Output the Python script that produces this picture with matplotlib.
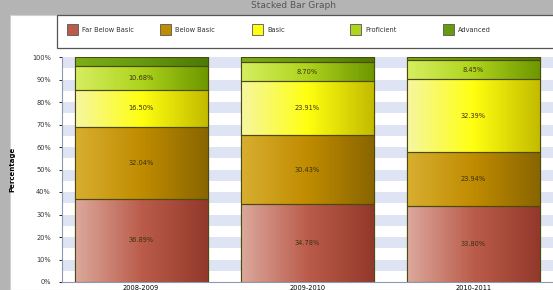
import numpy as np
import matplotlib
matplotlib.use('Agg')
import matplotlib.pyplot as plt
from matplotlib.patches import Rectangle
from matplotlib.colors import LinearSegmentedColormap

# school years (labels are cut off at the bottom of the picture)
years = ['2008-2009', '2009-2010', '2010-2011']
levels = ['Far Below Basic', 'Below Basic', 'Basic', 'Proficient', 'Advanced']

far_below = [36.89, 34.78, 33.80]
below = [32.04, 30.43, 23.94]
basic = [16.50, 23.91, 32.39]
proficient = [10.68, 8.70, 8.45]
advanced = [3.88, 2.17, 1.41]

series = [far_below, below, basic, proficient, advanced]
# (light, mid, dark) for the horizontal gradient
shades = [('#dba89c', '#bb5c4b', '#93392b'),
          ('#d8ae30', '#c08c00', '#8a6600'),
          ('#f6f6a0', '#ffff10', '#c4bc00'),
          ('#d6ee60', '#aed41c', '#6e9800'),
          ('#7cae18', '#679a10', '#4c7a06')]

fig = plt.figure(figsize=(5.53, 2.9), dpi=100)
fig.patch.set_facecolor('#b4b4b4')
fig.add_artist(Rectangle((10/553, 0), 1, 1 - 15/290, transform=fig.transFigure,
                         facecolor='white', edgecolor='#d0d0d0', lw=0.8, zorder=0))
fig.text(0.53, 1 - 6/290, 'Stacked Bar Graph', ha='center', va='center', fontsize=6.5, color='#555555')

ax = fig.add_axes([62/553, 8/290, 1 - 62/553, 225/290])
ax.set_facecolor('white')
for i in range(0, 100, 10):
    ax.axhspan(i + 5, i + 10, color='#dfe4f4', lw=0, zorder=0)

x = np.arange(len(years))
bottom = np.zeros(len(years))
for k, (vals, sh) in enumerate(zip(series, shades)):
    cmap = LinearSegmentedColormap.from_list('c%d' % k, sh)
    bars = ax.bar(x, vals, 0.8, bottom=bottom, color=sh[1], edgecolor='#4d4a10',
                  linewidth=0.8, zorder=2, label=levels[k])
    for b in bars:
        im = ax.imshow(np.linspace(0, 1, 64).reshape(1, -1), cmap=cmap, aspect='auto',
                       extent=(b.get_x(), b.get_x() + b.get_width(), b.get_y(), b.get_y() + b.get_height()),
                       zorder=2.5)
        im.set_clip_path(b)
        ax.add_patch(Rectangle((b.get_x(), b.get_y()), b.get_width(), b.get_height(),
                               fill=False, edgecolor='#4d4a10', lw=0.8, zorder=3))
    if k < 4:
        for xi, v, b0 in zip(x, vals, bottom):
            ax.text(xi, b0 + v / 2, '%.2f%%' % v, ha='center', va='center', fontsize=4.8,
                    color='#3a3010', zorder=4)
    bottom += np.array(vals)

ax.set_xlim(-0.476, 2.48)
ax.set_ylim(0, 100)
ax.set_yticks(range(0, 101, 10))
ax.set_yticklabels(['%d%%' % t for t in range(0, 101, 10)], fontsize=4.8, color='#333333')
ax.set_xticks(x)
ax.set_xticklabels(years, fontsize=4.8)
ax.tick_params(axis='y', length=2, width=0.6, pad=6)
ax.tick_params(axis='x', length=0, pad=2)
for s in ['top', 'right']:
    ax.spines[s].set_visible(False)
ax.spines['left'].set_color('#9098b0')
ax.spines['bottom'].set_color('#9098b0')
ax.set_ylabel('Percentage', fontsize=5, fontweight='bold')
ax.yaxis.set_label_coords(-47/491, 0.5)

# legend drawn by hand, its frame runs past the right edge
fig.add_artist(Rectangle((57/553, 1 - 48/290), 0.95, 33/290, transform=fig.transFigure,
                         facecolor='white', edgecolor='#555555', lw=0.9, zorder=1))
key_x = [67, 160, 252, 350, 443]
for kx, name, sh in zip(key_x, levels, shades):
    fig.add_artist(Rectangle((kx/553, 1 - 35/290), 11/553, 11/290, transform=fig.transFigure,
                             facecolor=sh[1], edgecolor='#555555', lw=0.6, zorder=2))
    fig.text((kx + 15)/553, 1 - 29.5/290, name, ha='left', va='center', fontsize=4.8,
             color='#333333', zorder=3)

fig.savefig('out.png', dpi=100, facecolor=fig.get_facecolor())
